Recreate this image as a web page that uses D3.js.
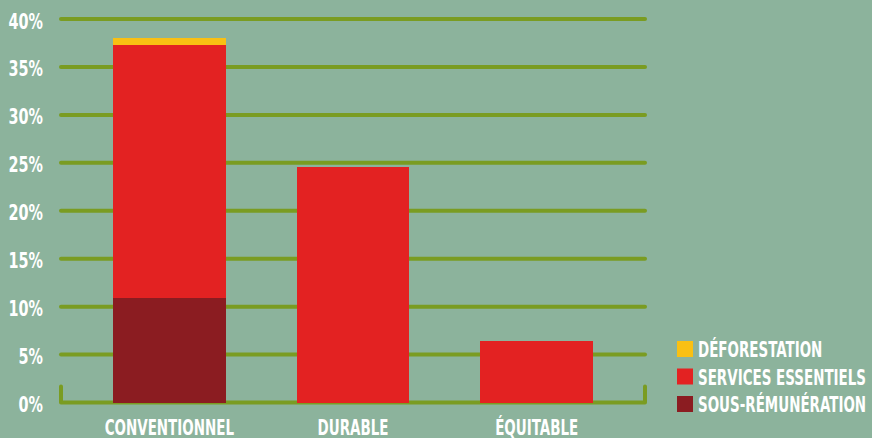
<!DOCTYPE html>
<html>
<head>
<meta charset="utf-8">
<script src="https://cdn.jsdelivr.net/npm/d3@7"></script>
<style>
  html, body { margin: 0; padding: 0; background: #8cb39c; }
  svg { display: block; }
  text { font-family: "DejaVu Sans Condensed", "DejaVu Sans", sans-serif; font-weight: bold; fill: #ffffff; }
</style>
</head>
<body>
<svg id="chart"></svg>
<script>
const width = 872;
const height = 438;
const bgColor = "#8cb39c";
const gridColor = "#7a9c22";

// data
const categories = ["CONVENTIONNEL", "DURABLE", "ÉQUITABLE"];
const seriesNames = ["SOUS-RÉMUNÉRATION", "SERVICES ESSENTIELS", "DÉFORESTATION"];
const sousRemuneration = [10.9, 0, 0];
const servicesEssentiels = [26.4, 24.6, 6.4];
const deforestation = [0.7, 0, 0];
const yTicks = [0, 5, 10, 15, 20, 25, 30, 35, 40];
const seriesColors = ["#8b1c21", "#e32222", "#f9c013"];
const legendOrder = ["DÉFORESTATION", "SERVICES ESSENTIELS", "SOUS-RÉMUNÉRATION"];

const rows = categories.map((c, i) => ({
    cat: c,
    "SOUS-RÉMUNÉRATION": sousRemuneration[i],
    "SERVICES ESSENTIELS": servicesEssentiels[i],
    "DÉFORESTATION": deforestation[i]
}));

const svg = d3.select("#chart")
    .attr("width", width)
    .attr("height", height);

svg.append("rect")
    .attr("width", width)
    .attr("height", height)
    .attr("fill", bgColor);

const x = d3.scaleBand()
    .domain(categories)
    .range([77.5, 628.5])
    .paddingInner(0.386)
    .paddingOuter(0.193);

const y = d3.scaleLinear()
    .domain([0, 40])
    .range([402.5, 19]);

const color = d3.scaleOrdinal().domain(seriesNames).range(seriesColors);

// grid lines (all but zero)
svg.append("g")
    .selectAll("line")
    .data(yTicks.filter(d => d > 0))
    .enter()
    .append("line")
    .attr("x1", 61)
    .attr("x2", 645)
    .attr("y1", d => y(d))
    .attr("y2", d => y(d))
    .attr("stroke", gridColor)
    .attr("stroke-width", 4)
    .attr("stroke-linecap", "round");

// baseline with little upturned ends
svg.append("path")
    .attr("d", `M61,${y(0) - 16}L61,${y(0)}L645,${y(0)}L645,${y(0) - 16}`)
    .attr("fill", "none")
    .attr("stroke", gridColor)
    .attr("stroke-width", 4)
    .attr("stroke-linecap", "round")
    .attr("stroke-linejoin", "round");

// y labels (font squeezed horizontally to look condensed)
svg.append("g")
    .selectAll("text")
    .data(yTicks)
    .enter()
    .append("text")
    .attr("transform", d => `translate(43, ${y(d) + 9.5}) scale(0.78, 1)`)
    .attr("text-anchor", "end")
    .attr("font-size", 20.5)
    .text(d => d + "%");

// stacked bars
const stacked = d3.stack().keys(seriesNames)(rows);
svg.append("g")
    .selectAll("g")
    .data(stacked)
    .enter()
    .append("g")
    .attr("fill", d => color(d.key))
    .selectAll("rect")
    .data(d => d)
    .enter()
    .append("rect")
    .attr("x", d => x(d.data.cat))
    .attr("width", x.bandwidth())
    .attr("y", d => y(d[1]))
    .attr("height", d => Math.max(0, y(d[0]) - y(d[1])))
    .attr("shape-rendering", "crispEdges");

// x labels
svg.append("g")
    .selectAll("text")
    .data(categories)
    .enter()
    .append("text")
    .attr("transform", d => `translate(${x(d) + x.bandwidth() / 2}, 434.5) scale(0.73, 1)`)
    .attr("text-anchor", "middle")
    .attr("font-size", 20.5)
    .text(d => d);

// legend
const legend = svg.append("g")
    .selectAll("g")
    .data(legendOrder)
    .enter()
    .append("g")
    .attr("transform", (d, i) => `translate(677, ${341 + i * 27.5})`);
legend.append("rect")
    .attr("width", 16)
    .attr("height", 16)
    .attr("fill", d => color(d));
legend.append("text")
    .attr("transform", "translate(21, 16) scale(0.68, 1)")
    .attr("font-size", 22)
    .text(d => d);
</script>
</body>
</html>
